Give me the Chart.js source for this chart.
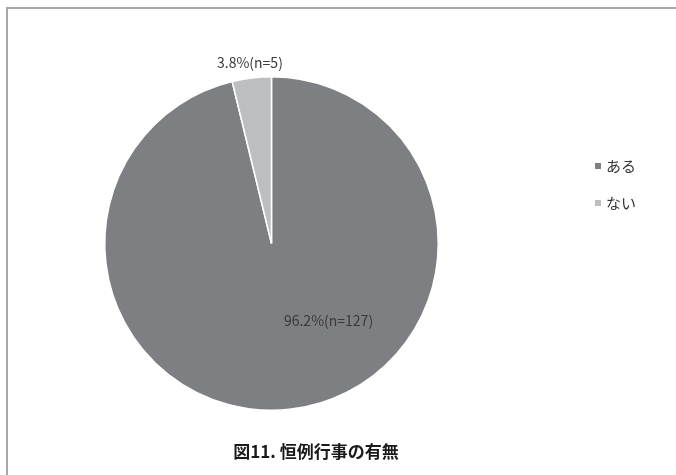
<!DOCTYPE html>
<html lang="ja">
<head>
<meta charset="utf-8">
<title>図11. 恒例行事の有無</title>
<script src="https://cdn.jsdelivr.net/npm/chart.js@4"></script>
<style>
  html, body { margin: 0; padding: 0; background: #fff; overflow: hidden; }
  #wrap { position: relative; width: 676px; height: 475px; }
</style>
</head>
<body>
<div id="wrap"><canvas id="chart" width="676" height="475"></canvas></div>
<script>
// 恒例行事の有無 (n=132)
const categories = ['ある', 'ない'];
const counts = [127, 5];
const sliceColors = ['#7e7f83', '#bdbec1'];
const chartTitle = '図11. 恒例行事の有無';

const FONT = '"Noto Sans CJK JP", "Noto Sans", sans-serif';
const total = counts.reduce((a, b) => a + b, 0);

// frame: only the top and left edges fall inside the canvas
const framePlugin = {
    id: 'frame',
    beforeDraw(chart) {
        const ctx = chart.ctx;
        ctx.save();
        ctx.strokeStyle = '#a8a8a8';
        ctx.lineWidth = 2;
        ctx.beginPath();
        ctx.moveTo(chart.width, 8);
        ctx.lineTo(7, 8);
        ctx.lineTo(7, chart.height);
        ctx.stroke();
        ctx.restore();
    }
};

// "xx.x%(n=xx)" labels; big slice inside, small slice just outside the rim
const sliceLabelPlugin = {
    id: 'sliceLabels',
    afterDatasetsDraw(chart) {
        const ctx = chart.ctx;
        const meta = chart.getDatasetMeta(0);
        ctx.save();
        ctx.font = '14px ' + FONT;
        ctx.fillStyle = '#3a3a3a';
        ctx.textAlign = 'center';
        ctx.textBaseline = 'middle';
        meta.data.forEach((arc, i) => {
            const v = counts[i];
            const pct = (v / total * 100).toFixed(1);
            const text = pct + '%(n=' + v + ')';
            const { x, y, startAngle, endAngle, outerRadius } = arc.getProps(['x', 'y', 'startAngle', 'endAngle', 'outerRadius'], true);
            let ang, r;
            if (v / total > 0.5) {
                ang = 53.5 * Math.PI / 180;
                r = outerRadius * 0.575;
            } else {
                ang = (startAngle + endAngle) / 2;
                r = outerRadius + 15;
            }
            ctx.fillText(text, x + Math.cos(ang) * r, y + Math.sin(ang) * r);
        });
        ctx.restore();
    }
};

// legend on the right and the title under the pie
const legendTitlePlugin = {
    id: 'legendTitle',
    afterDraw(chart) {
        const ctx = chart.ctx;
        ctx.save();
        ctx.textBaseline = 'middle';
        ctx.textAlign = 'left';
        ctx.font = '15px ' + FONT;
        categories.forEach((name, i) => {
            const y = 166 + i * 37;
            ctx.fillStyle = sliceColors[i];
            ctx.fillRect(595, y - 3, 6, 6);
            ctx.fillStyle = '#333333';
            ctx.fillText(name, 606, y);
        });
        ctx.font = 'bold 17px ' + FONT;
        ctx.fillStyle = '#1a1a1a';
        ctx.textAlign = 'center';
        ctx.fillText(chartTitle, 316, 452);
        ctx.restore();
    }
};

new Chart(document.getElementById('chart'), {
    type: 'pie',
    data: {
        labels: categories,
        datasets: [{
            data: counts,
            backgroundColor: sliceColors,
            borderColor: '#ffffff',
            borderWidth: 1.5
        }]
    },
    options: {
        responsive: false,
        animation: false,
        events: [],
        layout: { padding: { left: 104, right: 237, top: 76, bottom: 64 } },
        plugins: {
            legend: { display: false },
            title: { display: false },
            tooltip: { enabled: false }
        }
    },
    plugins: [framePlugin, sliceLabelPlugin, legendTitlePlugin]
});
</script>
</body>
</html>
